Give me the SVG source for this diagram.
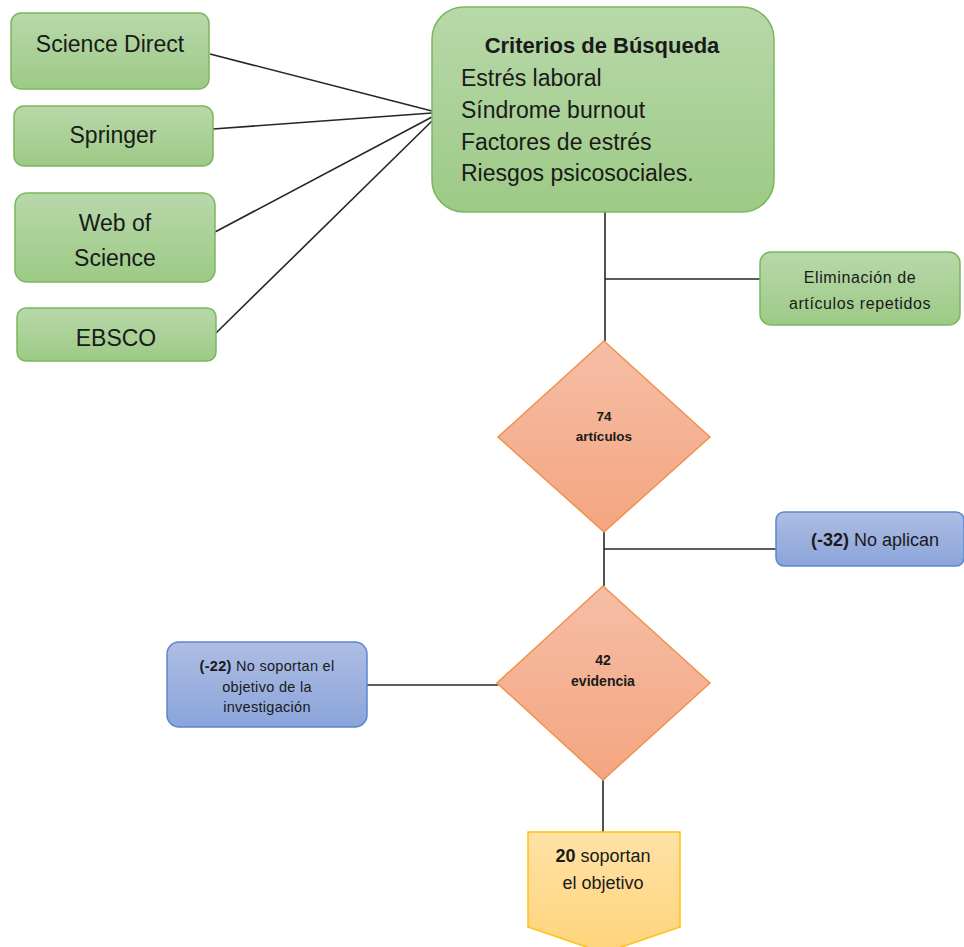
<svg xmlns="http://www.w3.org/2000/svg" width="964" height="947" viewBox="0 0 964 947">
<defs>
<linearGradient id="gGreen" x1="0" y1="0" x2="0" y2="1"><stop offset="0" stop-color="#b8d8aa"/><stop offset="1" stop-color="#9dca86"/></linearGradient>
<linearGradient id="gOrange" x1="0" y1="0" x2="0" y2="1"><stop offset="0" stop-color="#f5bea6"/><stop offset="1" stop-color="#f4a580"/></linearGradient>
<linearGradient id="gBlue" x1="0" y1="0" x2="0" y2="1"><stop offset="0" stop-color="#aebde3"/><stop offset="1" stop-color="#8aa4da"/></linearGradient>
<linearGradient id="gYellow" x1="0" y1="0" x2="0" y2="1"><stop offset="0" stop-color="#ffe2a6"/><stop offset="1" stop-color="#ffd37a"/></linearGradient>
</defs>
<style>
.green{fill:url(#gGreen);stroke:#7ab85d;stroke-width:1.5}
.orange{fill:url(#gOrange);stroke:#f0924e;stroke-width:1.5}
.blue{fill:url(#gBlue);stroke:#5a86d0;stroke-width:1.5}
.yellow{fill:url(#gYellow);stroke:#ffc20e;stroke-width:1.5}
text{font-family:"Liberation Sans",Arial,sans-serif;fill:#1a1a1a}
.big{font-size:23px}
.c{text-anchor:middle}
.b{font-weight:bold}
.conn line{stroke:#262626;stroke-width:1.6}
</style>
<g class="conn">
<line x1="210" y1="54" x2="432" y2="111"/>
<line x1="213" y1="129" x2="432" y2="113"/>
<line x1="215" y1="232" x2="432" y2="117"/>
<line x1="216" y1="333" x2="432" y2="121"/>
<line x1="605" y1="212" x2="605" y2="341"/>
<line x1="605" y1="279" x2="760" y2="279"/>
<line x1="604" y1="532" x2="604" y2="586"/>
<line x1="604" y1="549" x2="776" y2="549"/>
<line x1="367" y1="685" x2="498" y2="685"/>
<line x1="603" y1="780" x2="603" y2="832"/>
</g>
<g id="science-direct">
<rect class="green" x="11" y="13" width="198" height="76" rx="10"/>
<text class="big c" x="110" y="52">Science Direct</text>
</g>
<g id="springer">
<rect class="green" x="14" y="106" width="199" height="60" rx="10"/>
<text class="big c" x="113" y="143">Springer</text>
</g>
<g id="web-of-science">
<rect class="green" x="15" y="193" width="200" height="89" rx="12"/>
<text class="big c" x="115" y="231">Web of</text>
<text class="big c" x="115" y="266">Science</text>
</g>
<g id="ebsco">
<rect class="green" x="17" y="308" width="199" height="53" rx="9"/>
<text class="big c" x="116" y="346">EBSCO</text>
</g>
<g id="criterios">
<rect class="green" x="432" y="7" width="342" height="205" rx="32"/>
<text class="b c" x="602" y="53" font-size="22">Criterios de Búsqueda</text>
<text class="big" x="461" y="86">Estrés laboral</text>
<text class="big" x="461" y="118">Síndrome burnout</text>
<text class="big" x="461" y="150">Factores de estrés</text>
<text class="big" x="461" y="181">Riesgos psicosociales.</text>
</g>
<g id="eliminacion">
<rect class="green" x="760" y="252" width="200" height="73" rx="11"/>
<text class="c" x="860" y="283" font-size="16" letter-spacing="0.6">Eliminación de</text>
<text class="c" x="860" y="309" font-size="16" letter-spacing="0.6">artículos repetidos</text>
</g>
<g id="d74">
<polygon class="orange" points="604,341 710,437 604,532 498,437"/>
<text class="b c" x="604" y="421" font-size="13.5">74</text>
<text class="b c" x="604" y="441" font-size="13.5">artículos</text>
</g>
<g id="no-aplican">
<rect class="blue" x="776" y="512" width="188" height="54" rx="8"/>
<text class="c" x="875" y="546" font-size="18"><tspan class="b">(-32)</tspan> No aplican</text>
</g>
<g id="d42">
<polygon class="orange" points="603,586 710,683 603,780 497,683"/>
<text class="b c" x="603" y="665" font-size="14">42</text>
<text class="b c" x="603" y="686" font-size="14">evidencia</text>
</g>
<g id="no-soportan">
<rect class="blue" x="167" y="642" width="200" height="85" rx="12"/>
<text class="c" x="267" y="671" font-size="14.5" letter-spacing="0.3"><tspan class="b">(-22)</tspan> No soportan el</text>
<text class="c" x="267" y="692" font-size="14.5" letter-spacing="0.3">objetivo de la</text>
<text class="c" x="267" y="712" font-size="14.5" letter-spacing="0.3">investigación</text>
</g>
<g id="soportan">
<polygon class="yellow" points="528,832 680,832 680,927 604,953 528,927"/>
<text class="c" x="603" y="862" font-size="18"><tspan class="b">20</tspan> soportan</text>
<text class="c" x="603" y="889" font-size="18">el objetivo</text>
</g>
</svg>
